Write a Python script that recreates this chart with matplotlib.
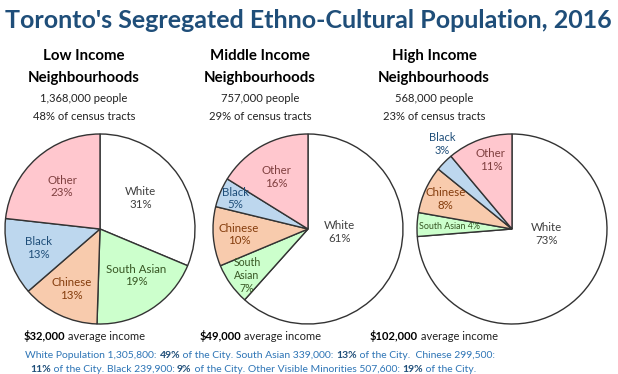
import matplotlib
matplotlib.use("Agg")
import matplotlib.pyplot as plt
import numpy as np

plt.rcParams["font.family"] = ["Lato", "DejaVu Sans"]

W, H = 618, 374

GROUPS = ["Low Income", "Middle Income", "High Income"]
PEOPLE = ["1,368,000 people", "757,000 people", "568,000 people"]
TRACTS = ["48% of census tracts", "29% of census tracts", "23% of census tracts"]
INCOME = ["$32,000", "$49,000", "$102,000"]

CATEGORIES = ["White", "South Asian", "Chinese", "Black", "Other"]
LOW = [31, 19, 13, 13, 23]
MIDDLE = [61, 7, 10, 5, 16]
HIGH = [73, 4, 8, 3, 11]

FILL = ["#ffffff", "#ccffcc", "#f8cbad", "#bdd7ee", "#ffc7ce"]
TEXT_COL = ["#404040", "#375623", "#843c0c", "#1f4e79", "#7f3f3f"]

# label placement per pie: (distance as fraction of radius, angle tweak in deg, font size)
LABEL_POS = [
    [(0.54, 4, 8.3), (0.62, 5, 8.3), (0.70, 0, 8.3), (0.68, 0, 8.3), (0.60, 0, 8.3)],
    [(0.33, 15, 8.3), (0.81, 2, 7.6), (0.73, 0, 8.3), (0.83, 0, 8.3), (0.64, 2, 8.3)],
    [(0.37, 35, 8.3), (0.66, 0, 6.4), (0.77, 0, 8.3), (1.16, -6, 8.0), (0.76, -3, 8.3)],
]
LABEL_FMT = [
    ["{c}\n{v}%", "{c}\n{v}%", "{c}\n{v}%", "{c}\n{v}%", "{c}\n{v}%"],
    ["{c}\n{v}%", "South\nAsian\n{v}%", "{c}\n{v}%", "{c}\n{v}%", "{c}\n{v}%"],
    ["{c}\n{v}%", "{c} {v}%", "{c}\n{v}%", "{c}\n{v}%", "{c}\n{v}%"],
]

PIE_CX = [100, 308, 512]
PIE_CY = 229
PIE_R = 95
TEXT_CX = [84, 260, 434]

TITLE_BLUE = "#1f4e79"
FOOT_BLUE = "#2e75b6"

fig = plt.figure(figsize=(W / 100, H / 100), dpi=100)
fig.patch.set_facecolor("white")


def fx(px):
    return px / W


def fy(py):
    return 1 - py / H


fig.text(fx(308), fy(21), "Toronto's Segregated Ethno-Cultural Population, 2016",
         ha="center", va="center", fontsize=18.0, fontweight="bold", color=TITLE_BLUE)

for i, vals in enumerate([LOW, MIDDLE, HIGH]):
    cx = PIE_CX[i]
    ax = fig.add_axes([fx(cx - PIE_R), fy(PIE_CY + PIE_R), 2 * PIE_R / W, 2 * PIE_R / H])
    wedges, _ = ax.pie(vals, colors=FILL, startangle=90, counterclock=False,
                       wedgeprops=dict(edgecolor="#333333", linewidth=1.0))
    ax.set_xlim(-1, 1)
    ax.set_ylim(-1, 1)
    ax.set_aspect("equal")
    ax.axis("off")
    for j, w in enumerate(wedges):
        dist, tweak, size = LABEL_POS[i][j]
        ang = np.deg2rad((w.theta1 + w.theta2) / 2 + tweak)
        label = LABEL_FMT[i][j].format(c=CATEGORIES[j], v=vals[j])
        ax.text(dist * np.cos(ang), dist * np.sin(ang), label, ha="center", va="center",
                fontsize=size, color=TEXT_COL[j], linespacing=1.2)

    tx = fx(TEXT_CX[i])
    fig.text(tx, fy(56), GROUPS[i], ha="center", va="center", fontsize=10.8,
             fontweight="bold", color="black")
    fig.text(tx, fy(78), "Neighbourhoods", ha="center", va="center", fontsize=10.8,
             fontweight="bold", color="black")
    fig.text(tx, fy(98), PEOPLE[i], ha="center", va="center", fontsize=8.1, color="#222222")
    fig.text(tx, fy(116), TRACTS[i], ha="center", va="center", fontsize=8.1, color="#222222")

renderer = fig.canvas.get_renderer()


def rich_line(parts, cx_px, cy_px, size, default_color):
    """parts: list of (text, bold, color). Draw centred on cx_px."""
    texts = []
    x = 0.0
    for s, bold, col in parts:
        t = fig.text(0, fy(cy_px), s, ha="left", va="center", fontsize=size,
                     fontweight="bold" if bold else "normal", color=col or default_color)
        bb = t.get_window_extent(renderer)
        texts.append((t, x))
        x += bb.width
    start = cx_px - x / 2
    for t, off in texts:
        t.set_x(fx(start + off))


for i in range(3):
    rich_line([(INCOME[i], True, "black"), (" average income", False, "#222222")],
              TEXT_CX[i], 336, 8.0, "black")

rich_line([
    ("White Population 1,305,800: ", False, None), ("49%", True, TITLE_BLUE),
    (" of the City. South Asian 339,000: ", False, None), ("13%", True, TITLE_BLUE),
    (" of the City.  Chinese 299,500:", False, None),
], 260, 355, 7.5, FOOT_BLUE)
rich_line([
    ("11%", True, TITLE_BLUE), (" of the City. Black 239,900: ", False, None),
    ("9%", True, TITLE_BLUE), (" of the City. Other Visible Minorities 507,600: ", False, None),
    ("19%", True, TITLE_BLUE), (" of the City.", False, None),
], 253, 370, 7.5, FOOT_BLUE)

fig.savefig("out.png", dpi=100, facecolor="white")
